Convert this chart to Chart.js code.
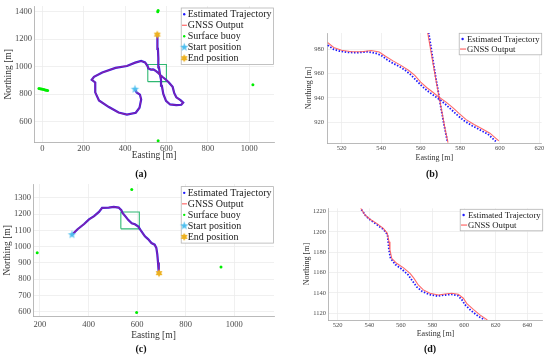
<!DOCTYPE html>
<html>
<head>
<meta charset="utf-8">
<script src="https://cdn.jsdelivr.net/npm/chart.js@4/dist/chart.umd.min.js"></script>
<style>
body { margin: 0; background: #fff; width: 550px; height: 358px; position: relative; overflow: hidden; font-family: 'Liberation Serif', serif; }
.pane { position: absolute; width: 280px; height: 180px; }
.cap { position: absolute; font-weight: bold; font-size: 10px; line-height: 12px; transform: translateX(-50%); color: #111; }
</style>
</head>
<body>
<div class="pane" style="left:0;top:0"><canvas id="ca" width="280" height="180"></canvas></div>
<div class="pane" style="left:270px;top:0"><canvas id="cb" width="280" height="180"></canvas></div>
<div class="pane" style="left:0;top:178px"><canvas id="cc" width="280" height="180"></canvas></div>
<div class="pane" style="left:270px;top:178px"><canvas id="cd" width="280" height="180"></canvas></div>
<div class="cap" style="left:141px;top:168px">(a)</div>
<div class="cap" style="left:432px;top:168px">(b)</div>
<div class="cap" style="left:141px;top:343px">(c)</div>
<div class="cap" style="left:430px;top:343px">(d)</div>
<script>
// --- panel (a): whole run 1 ---
const trajA = [[448,835],[456,812],[472,796],[478,760],[470,700],[452,664],[409,650],[369,665],[322,705],[274,753],[256,812],[256,884],[239,903],[250,925],[290,956],[354,990],[409,1004],[449,1028],[478,1040],[497,1030],[508,1005],[513,986],[525,978],[535,979],[540,976],[550,966],[557,958],[569,940],[583,922],[598,904],[612,884],[630,852],[638,806],[648,776],[668,755],[681,737],[672,722],[648,719],[618,724],[598,750],[585,800],[578,860],[574,903],[569,940],[564,994],[561,1060],[559,1128],[557,1190],[556,1230]];
const buoysA = [[-16,841],[-10,839],[-4,837],[2,835],[8,833],[14,830],[20,828],[26,826],[558,1399],[560,1407],[560,460],[1018,867]];
const startA = [[448,835]];
const endA = [[556,1232]];
const boxA = [510, 600, 890, 1015];
const xTicksA = [0, 200, 400, 600, 800, 1000];
const yTicksA = [600, 800, 1000, 1200, 1400];

// --- panel (b): zoom of the green box in (a) ---
const estB1 = [[513,983.5],[516,980],[519,978.5],[523,977.5],[528,977.3],[533,978],[537,977],[540,975],[543,971.5],[546,968.5],[549,966],[552,963],[555,959],[558,954],[561,949],[564,945],[567,941.5],[570,938],[573,934],[576,929.5],[579,925],[582,921],[586,917],[590,913.5],[594,910],[598,904]];
const gnssB1 = [[513,985.5],[516,981.5],[520,979.2],[525,978],[530,978],[535,979],[539,977.8],[542,974.5],[546,970.5],[550,966.8],[554,962.5],[557,958.5],[560,953],[563,948.5],[566,944.8],[569.5,940.2],[573,936.2],[576.5,931.5],[579.5,927],[583,922],[587,918],[591,914.5],[595,910.8],[599.5,904.5]];
const estB2 = [[564,994],[565.2,982],[566.3,970],[567.5,958],[568.8,946],[570,934],[571.3,922],[572.6,911],[573.5,904]];
const gnssB2 = [[563.5,994],[565,980],[566.5,966],[568,952],[569.5,939],[571,926],[572.5,913],[573.8,903]];
const xTicksB = [520, 540, 560, 580, 600, 620];
const yTicksB = [920, 940, 960, 980];

// --- panel (c): whole run 2 ---
const trajC = [[332,1073],[355,1107],[382,1139],[402,1167],[423,1187],[443,1213],[456,1238],[483,1240],[504,1244],[524,1240],[535,1224],[540,1207],[551,1187],[564,1163],[578,1143],[591,1137],[605,1123],[618,1093],[632,1063],[645,1046],[659,1022],[672,1012],[679,992],[683,952],[686,902],[689,841]];
const buoysC = [[578,1350],[189,962],[945,875],[598,596]];
const startC = [[332,1073]];
const endC = [[690,837]];
const boxC = [533, 609, 1109, 1213];
const xTicksC = [200, 400, 600, 800, 1000];
const yTicksC = [600, 700, 800, 900, 1000, 1100, 1200, 1300];

// --- panel (d): zoom of the green box in (c) ---
const estD = [[535,1222],[538,1215.5],[541,1211.5],[545,1207],[549,1202.5],[551.5,1197.5],[552,1190],[552.5,1182],[553.5,1174],[556.5,1168],[560.5,1163.5],[564.5,1158],[567,1152.5],[570,1146],[573.5,1141.5],[578,1138.5],[583,1137],[588,1138],[592,1138.7],[596,1137.5],[598.5,1133.5],[600.5,1128.5],[604.5,1122.5],[609,1117],[613,1113.5]];
const gnssD = [[534.6,1223.3],[537.3,1216.7],[540.5,1212.5],[544.7,1208.5],[548.9,1203.6],[551.4,1198.7],[552.5,1190.5],[553.1,1182.3],[554.2,1174.1],[557.3,1169.2],[561.5,1164.9],[565.8,1159.3],[568.3,1154.4],[571,1147.9],[574.2,1143],[578.4,1139.7],[583.7,1138],[587.9,1139],[592.1,1139.7],[596.3,1138.7],[599.5,1134.8],[601.6,1129.8],[605.8,1123.9],[610,1118.4],[614.7,1113.4]];
const xTicksD = [520, 540, 560, 580, 600, 620, 640];
const yTicksD = [1120, 1140, 1160, 1180, 1200, 1220];

const SERIF = "'Liberation Serif', 'Times New Roman', serif";
Chart.defaults.font.family = SERIF;
Chart.defaults.animation = false;

const BLUE = '#1f1aff', RED = '#ff5a5a', GREEN = '#00ee00', BOXC = '#2fb872';

function pts(arr) { return arr.map(p => ({ x: p[0], y: p[1] })); }
function rect(b) { return pts([[b[0],b[2]],[b[1],b[2]],[b[1],b[3]],[b[0],b[3]],[b[0],b[2]]]); }

function starImg(n, r, color) {
    const c = document.createElement('canvas');
    const s = Math.ceil(r * 2 + 2);
    c.width = c.height = s;
    const g = c.getContext('2d');
    g.fillStyle = color;
    g.beginPath();
    const ri = n === 5 ? r * 0.4 : r * 0.55;
    for (let i = 0; i < 2 * n; i++) {
        const a = -Math.PI / 2 + i * Math.PI / n;
        const rr = i % 2 ? ri : r;
        g.lineTo(s / 2 + rr * Math.cos(a), s / 2 + rr * Math.sin(a));
    }
    g.closePath();
    g.fill();
    return c;
}
const startStar = starImg(5, 4.4, '#4dbeee');
const endStar = starImg(6, 4, '#edb120');

// legend drawn inside the axes with a thin frame, like the figure
const boxLegend = {
    id: 'boxLegend',
    afterDraw(chart, args, o) {
        const ctx = chart.ctx, area = chart.chartArea;
        const items = chart.data.datasets.filter(d => d.legendMark);
        ctx.save();
        ctx.font = o.size + 'px ' + SERIF;
        const tw = Math.max(...items.map(d => ctx.measureText(d.label).width));
        const w = tw + o.textX + 2;
        const h = items.length * o.row + 1.5;
        const x0 = area.right - o.right - w, y0 = area.top + o.top;
        ctx.fillStyle = '#fff';
        ctx.fillRect(x0, y0, w, h);
        ctx.strokeStyle = '#b4b4b4';
        ctx.lineWidth = 0.8;
        ctx.strokeRect(x0, y0, w, h);
        items.forEach((d, i) => {
            const cy = y0 + 0.75 + o.row * (i + 0.5);
            const mx = x0 + o.markX;
            if (d.legendMark === 'dot') {
                ctx.fillStyle = d.legendColor;
                ctx.beginPath();
                ctx.arc(mx, cy, 1.2, 0, Math.PI * 2);
                ctx.fill();
            } else if (d.legendMark === 'line') {
                ctx.strokeStyle = d.legendColor;
                ctx.lineWidth = 1.1;
                ctx.beginPath();
                ctx.moveTo(x0 + 0.8, cy);
                ctx.lineTo(x0 + o.textX - 0.8, cy);
                ctx.stroke();
            } else {
                ctx.drawImage(d.pointStyle, mx - d.pointStyle.width / 2, cy - d.pointStyle.height / 2);
            }
            ctx.fillStyle = '#1a1a1a';
            ctx.textBaseline = 'middle';
            ctx.fillText(d.label, x0 + o.textX, cy + 0.5);
        });
        ctx.restore();
    }
};

function axis(min, max, ticks, fit, horiz, p) {
    return {
        type: 'linear', min: min, max: max, bounds: 'data',
        afterBuildTicks: s => { s.ticks = ticks.map(v => ({ value: v })); },
        afterFit: s => {
            if (horiz) { s.height = fit; s.paddingLeft = 0; s.paddingRight = 0; }
            else { s.width = fit; s.paddingTop = 0; s.paddingBottom = 0; }
        },
        grid: { color: '#ececec', lineWidth: 0.8, drawTicks: false },
        border: { color: '#a8a8a8', width: 0.8 },
        ticks: { color: '#4a4a4a', font: { size: p.tickSize }, padding: horiz ? p.xTickPad : p.yTickPad,
                 maxRotation: 0, autoSkip: false, callback: v => String(v) },
        title: { display: true, text: horiz ? 'Easting [m]' : 'Northing [m]', color: '#333',
                 font: { size: p.titleSize },
                 padding: horiz ? { top: 0, bottom: p.xTitlePad } : { top: p.yTitlePad, bottom: 0 } }
    };
}

function makeChart(id, p, datasets) {
    return new Chart(document.getElementById(id), {
        type: 'scatter',
        data: { datasets: datasets },
        options: {
            responsive: false,
            layout: { padding: { left: 0, top: p.top, right: p.right, bottom: 0 } },
            plugins: { legend: { display: false }, tooltip: { enabled: false }, boxLegend: p.legend },
            scales: {
                x: axis(p.xr[0], p.xr[1], p.xt, p.xH, true, p),
                y: axis(p.yr[0], p.yr[1], p.yt, p.yW, false, p)
            }
        },
        plugins: [boxLegend]
    });
}

function overviewSets(traj, buoys, start, end, box) {
    return [
        { label: 'Estimated Trajectory', data: pts(traj), showLine: true, borderColor: '#2a1cf0', borderWidth: 2.2,
          pointRadius: 0, order: 5, legendMark: 'dot', legendColor: BLUE },
        { label: 'GNSS Output', data: pts(traj), showLine: true, borderColor: 'rgba(255,40,70,0.45)', borderWidth: 1.2,
          pointRadius: 0, order: 4, legendMark: 'line', legendColor: RED },
        { label: 'Surface buoy', data: pts(buoys), pointRadius: 1.5, backgroundColor: GREEN, borderWidth: 0,
          order: 3, legendMark: 'dot', legendColor: GREEN },
        { label: 'Start position', data: pts(start), pointStyle: startStar, pointRadius: 5, order: 2, legendMark: 'img' },
        { label: 'End position', data: pts(end), pointStyle: endStar, pointRadius: 5, order: 1, legendMark: 'img' },
        { label: 'box', data: rect(box), showLine: true, borderColor: BOXC, borderWidth: 1.1, pointRadius: 0, order: 6 }
    ];
}

function estSet(arr, label) {
    return { label: label, data: pts(arr), showLine: true, borderColor: BLUE, borderWidth: 1.8,
             borderDash: [1.5, 1.6], pointRadius: 0, order: 5,
             legendMark: label ? 'dot' : undefined, legendColor: BLUE };
}
function gnssSet(arr, label) {
    return { label: label, data: pts(arr), showLine: true, borderColor: 'rgba(255,80,80,0.85)', borderWidth: 1.1,
             pointRadius: 0, order: 4, legendMark: label ? 'line' : undefined, legendColor: RED };
}

const bigFonts = { tickSize: 8.5, titleSize: 9.5 };
const smallFonts = { tickSize: 6.5, titleSize: 8 };

makeChart('ca', Object.assign({
    xr: [-40, 1120], yr: [446, 1440], xt: xTicksA, yt: yTicksA,
    top: 4, right: 2, yW: 34, xH: 37.3,
    xTickPad: 1, yTickPad: 2, xTitlePad: 18.8, yTitlePad: 2.6,
    legend: { size: 10, row: 11, textX: 6.5, markX: 3, top: 2, right: 0.5 }
}, bigFonts), overviewSets(trajA, buoysA, startA, endA, boxA));

makeChart('cb', Object.assign({
    xr: [512.6, 621.2], yr: [902.7, 993.5], xt: xTicksB, yt: yTicksB,
    top: 33, right: 8.3, yW: 57, xH: 37,
    xTickPad: 1.8, yTickPad: 3, xTitlePad: 17.5, yTitlePad: 34.5,
    legend: { size: 8.7, row: 10, textX: 7.7, markX: 3.4, top: 0.3, right: 0 }
}, smallFonts), [estSet(estB1, 'Estimated Trajectory'), gnssSet(gnssB1, 'GNSS Output'), estSet(estB2), gnssSet(gnssB2)]);

makeChart('cc', Object.assign({
    xr: [171.7, 1163], yr: [569.8, 1384.5], xt: xTicksC, yt: yTicksC,
    top: 3.7, right: 2, yW: 33, xH: 41.3,
    xTickPad: 2.5, yTickPad: 2, xTitlePad: 17.3, yTitlePad: 1.6,
    legend: { size: 10, row: 11, textX: 6.5, markX: 3, top: 2.6, right: 0.5 }
}, bigFonts), overviewSets(trajC, buoysC, startC, endC, boxC));

makeChart('cd', Object.assign({
    xr: [514.1, 649.7], yr: [1113.4, 1223.3], xt: xTicksD, yt: yTicksD,
    top: 30.3, right: 7.3, yW: 58.3, xH: 38,
    xTickPad: 1.1, yTickPad: 2.3, xTitlePad: 18.9, yTitlePad: 31.9,
    legend: { size: 8.7, row: 10, textX: 7.7, markX: 3.4, top: 1, right: 0 }
}, smallFonts), [estSet(estD, 'Estimated Trajectory'), gnssSet(gnssD, 'GNSS Output')]);
</script>
</body>
</html>
